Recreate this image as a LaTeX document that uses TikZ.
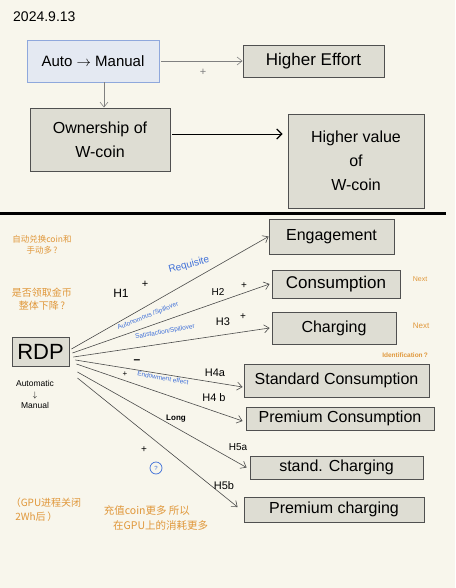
\documentclass[tikz,border=0pt]{standalone}
\usepackage{fontspec}
\setmainfont{Liberation Sans}
\newfontfamily\cjk{Noto Sans CJK SC}
\usetikzlibrary{arrows.meta}
\definecolor{bg}{HTML}{F8F6EC}
\definecolor{boxfill}{HTML}{DEDDD3}
\definecolor{boxline}{HTML}{505050}
\definecolor{autofill}{HTML}{E4E9F2}
\definecolor{autoline}{HTML}{8FA8DC}
\definecolor{orangeink}{HTML}{E0973A}
\definecolor{blueink}{HTML}{3E6FD8}
\definecolor{arrowink}{HTML}{4A4A4A}
\begin{document}
\begin{tikzpicture}[x=1pt,y=-1pt,
  box/.style={draw=boxline, fill=boxfill, line width=0.9pt, inner sep=0pt, align=center},
  arr/.style={draw=arrowink, line width=0.6pt, -{Straight Barb[length=5pt,width=8pt]}},
  hlab/.style={font=\fontsize{10}{12}\selectfont, inner sep=0pt},
  bluelab/.style={text=blueink, font=\fontsize{6.5}{8}\selectfont, inner sep=0pt},
  orangelab/.style={text=orangeink, font=\cjk\fontsize{10}{13}\selectfont, inner sep=0pt, align=left},
  qcirc/.style={circle, draw, line width=0.7pt, inner sep=0.5pt, font=\fontsize{6}{7}\selectfont}
]
\fill[bg] (0,0) rectangle (455,588);
\useasboundingbox (0,0) rectangle (455,588);

% top part
\node[font=\fontsize{14}{16}\selectfont, anchor=west, inner sep=0pt] (date) at (13,17) {2024.9.13};
\node[box, draw=autoline, fill=autofill, minimum width=132pt, minimum height=42pt, font=\fontsize{15}{18}\selectfont] (auto) at (93,61) {Auto $\rightarrow$ Manual};
\node[box, minimum width=141pt, minimum height=32pt, font=\fontsize{17}{20}\selectfont] (effort) at (313.5,61) {Higher Effort};
\node[box, minimum width=140pt, minimum height=63pt, font=\fontsize{16}{24}\selectfont] (own) at (100,139.5) {Ownership of\\W-coin};
\node[box, minimum width=136pt, minimum height=94pt, font=\fontsize{16}{24}\selectfont] (value) at (356,161) {Higher value\\of\\W-coin};

\draw[arr, draw=gray] ([xshift=2pt]auto.east) -- (effort.west);
\node[font=\fontsize{11}{12}\selectfont, text=gray, inner sep=0pt] (plus0) at (203,72) {+};
\draw[arr, draw=gray] ([xshift=11pt]auto.south) -- ([xshift=4pt]own.north);
\draw[draw=black, line width=0.9pt, -{Straight Barb[length=5pt,width=10pt,line width=1.2pt]}] ([xshift=2pt,yshift=5.5pt]own.east) -- ([xshift=-5pt,yshift=27pt]value.west);

% separator
\draw[line width=3pt] (0,213) -- (446,213);

% bottom part
\node[box, minimum width=57pt, minimum height=29pt, font=\fontsize{22}{24}\selectfont] (rdp) at (40.5,351.5) {RDP};
\node[font=\fontsize{8.5}{11}\selectfont, align=center, inner sep=0pt] (am) at (35,394) {Automatic\\$\downarrow$\\Manual};

\node[box, minimum width=125pt, minimum height=35pt, font=\fontsize{16}{18}\selectfont] (eng) at (331.5,236.5) {Engagement};
\node[box, minimum width=128pt, minimum height=28pt, font=\fontsize{17}{19}\selectfont] (cons) at (336,284) {Consumption};
\node[box, minimum width=124pt, minimum height=32pt, font=\fontsize{16}{18}\selectfont] (charg) at (334,328) {Charging};
\node[box, minimum width=185pt, minimum height=33pt, font=\fontsize{16}{18}\selectfont] (stdc) at (336.5,380.5) {Standard Consumption};
\node[box, minimum width=188pt, minimum height=23pt, font=\fontsize{16}{18}\selectfont] (prec) at (340,418.5) {Premium Consumption};
\node[box, minimum width=173pt, minimum height=23pt, font=\fontsize{16}{18}\selectfont] (stdch) at (336.5,467.5) {stand. Charging};
\node[box, minimum width=180pt, minimum height=25pt, font=\fontsize{16}{18}\selectfont] (prech) at (334,509.5) {Premium charging};

\draw[arr] ([xshift=2pt,yshift=2.5pt]rdp.east) -- (eng.west);
\draw[arr] ([xshift=3pt,yshift=-1.5pt]rdp.east) -- ([xshift=-2pt]cons.west);
\draw[arr] ([xshift=4pt,yshift=-5.5pt]rdp.east) -- ([xshift=-2pt]charg.west);
\draw[arr] ([xshift=6pt,yshift=-8.5pt]rdp.east) -- ([xshift=-1pt,yshift=-6.5pt]stdc.west);
\draw[arr] ([xshift=7pt,yshift=-12.5pt]rdp.east) -- ([xshift=-3pt,yshift=-2.5pt]prec.west);
\draw[arr] ([xshift=8pt,yshift=-20.5pt]rdp.east) -- ([xshift=-3pt]stdch.west);
\draw[arr] ([xshift=8pt,yshift=-26.5pt]rdp.east) -- ([xshift=-6pt,yshift=2.5pt]prech.west);

% hypothesis labels
\node[hlab, font=\fontsize{12}{14}\selectfont] (h1) at (121,293) {H1};
\node[hlab, font=\fontsize{11}{12}\selectfont] (p1) at (145,284) {+};
\node[hlab] (h2) at (218,292) {H2};
\node[hlab] (p2) at (244,286) {+};
\node[hlab, font=\fontsize{11}{13}\selectfont] (h3) at (223,322) {H3};
\node[hlab] (p3) at (243,317) {+};
\node[hlab, font=\fontsize{12}{14}\selectfont] (m4) at (137,362) {\textbf{--}};
\node[hlab, font=\fontsize{8}{10}\selectfont] (p4) at (125,374) {+};
\node[hlab, font=\fontsize{11}{13}\selectfont] (h4a) at (215,373) {H4a};
\node[hlab, font=\fontsize{11}{13}\selectfont] (h4b) at (214,398) {H4 b};
\node[hlab, font=\bfseries\fontsize{8}{10}\selectfont] (long) at (176,419) {Long};
\node[hlab] (h5a) at (238,447) {H5a};
\node[hlab, font=\fontsize{11}{13}\selectfont] (h5b) at (224,486) {H5b};
\node[hlab] (p5) at (144,450) {+};

% blue labels
\node[bluelab, font=\fontsize{10}{12}\selectfont, rotate=15] (req) at (189,265) {Requisite};
\node[bluelab, rotate=22] (auts) at (148,316) {Autonomous /Spillover};
\node[bluelab, rotate=10] (sats) at (165,332) {Satisfaction/Spillover};
\node[bluelab, rotate=-10] (endow) at (163,378) {Endowment effect};
\node[qcirc, draw=blueink, text=blueink, minimum size=12pt] (q3) at (156,468) {?};

% orange notes
\node[orangelab, font=\cjk\fontsize{8.5}{11}\selectfont, align=center] (n1) at (42,245) {自动兑换coin和\\手动多\,?};
\node[orangelab, align=center] (n2) at (42,299) {是否领取金币\\整体下降\,?};
\node[text=orangeink, font=\fontsize{7}{8}\selectfont, inner sep=0pt] (next1) at (420,279) {Next};
\node[text=orangeink, font=\fontsize{8}{9}\selectfont, inner sep=0pt] (next2) at (421,326) {Next};
\node[text=orangeink, font=\bfseries\fontsize{6.5}{8}\selectfont, inner sep=0pt] (ident) at (405,355) {Identification\,?};
\node[orangelab, font=\cjk\fontsize{10}{14}\selectfont] (n3) at (46,510) {（GPU进程关闭\\\ \ 2Wh后\,）};
\node[orangelab, font=\cjk\fontsize{10.5}{15}\selectfont] (n4) at (156,518) {充值coin更多 所以\\\ \ \ \ 在GPU上的消耗更多};
\end{tikzpicture}
\end{document}
